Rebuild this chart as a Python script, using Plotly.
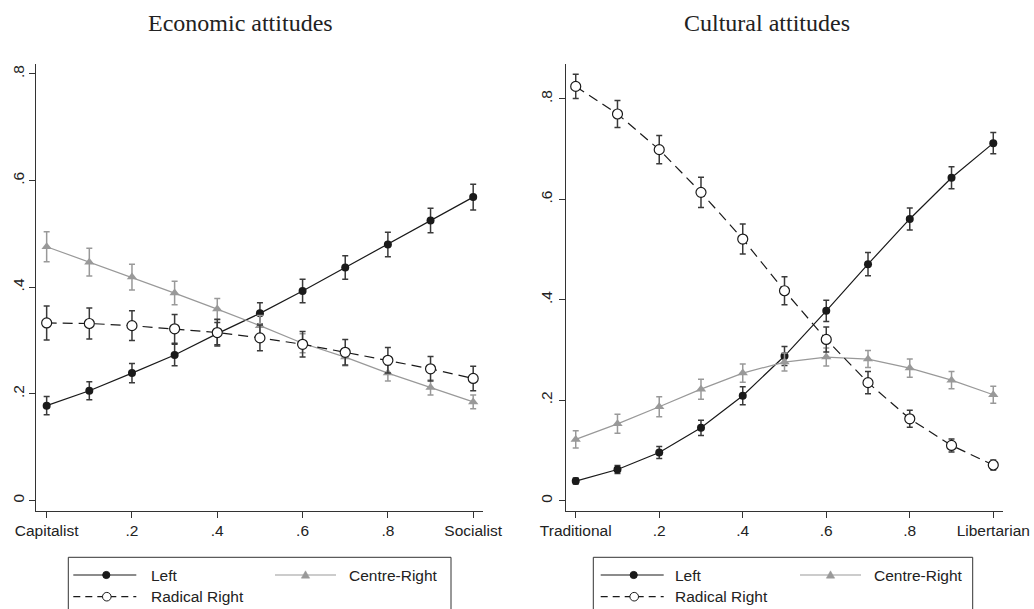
import plotly.graph_objects as go

# ---------------- data ----------------
x_vals = [0, 0.1, 0.2, 0.3, 0.4, 0.5, 0.6, 0.7, 0.8, 0.9, 1.0]
x_tickvals = [0, 0.2, 0.4, 0.6, 0.8, 1.0]
econ_xticktext = ["Capitalist", ".2", ".4", ".6", ".8", "Socialist"]
cult_xticktext = ["Traditional", ".2", ".4", ".6", ".8", "Libertarian"]
y_tickvals = [0, 0.2, 0.4, 0.6, 0.8]
y_ticktext = ["0", ".2", ".4", ".6", ".8"]

econ_left = [0.178, 0.206, 0.239, 0.273, 0.313, 0.351, 0.393, 0.437, 0.480, 0.525, 0.569]
econ_left_err = [0.017, 0.017, 0.018, 0.020, 0.021, 0.020, 0.022, 0.022, 0.023, 0.023, 0.024]
econ_cr = [0.476, 0.447, 0.419, 0.389, 0.359, 0.328, 0.295, 0.269, 0.239, 0.212, 0.185]
econ_cr_err = [0.028, 0.026, 0.024, 0.022, 0.020, 0.019, 0.018, 0.016, 0.015, 0.014, 0.013]
econ_rr = [0.333, 0.332, 0.328, 0.322, 0.315, 0.305, 0.293, 0.278, 0.263, 0.247, 0.229]
econ_rr_err = [0.032, 0.029, 0.028, 0.027, 0.025, 0.024, 0.024, 0.024, 0.024, 0.023, 0.023]

cult_left = [0.039, 0.062, 0.096, 0.145, 0.209, 0.288, 0.378, 0.471, 0.561, 0.643, 0.712]
cult_left_err = [0.006, 0.008, 0.012, 0.015, 0.018, 0.019, 0.021, 0.023, 0.022, 0.022, 0.021]
cult_cr = [0.122, 0.153, 0.187, 0.222, 0.254, 0.276, 0.286, 0.282, 0.264, 0.240, 0.211]
cult_cr_err = [0.017, 0.019, 0.020, 0.020, 0.018, 0.018, 0.018, 0.017, 0.018, 0.017, 0.017]
cult_rr = [0.825, 0.770, 0.699, 0.614, 0.521, 0.418, 0.321, 0.235, 0.163, 0.110, 0.071]
cult_rr_err = [0.024, 0.027, 0.028, 0.030, 0.030, 0.028, 0.025, 0.022, 0.017, 0.013, 0.010]

series_names = ["Left", "Centre-Right", "Radical Right"]
panel_titles = ["Economic attitudes", "Cultural attitudes"]

# ---------------- style ----------------
OFF = 0  # page body margin is removed via post_script below
W, H = 1034 - OFF, 609 - OFF
BLACK = "#1a1a1a"
DARKERR = "#3a3a3a"
GRAY = "#999999"
SANS = "Liberation Sans, Arial, sans-serif"
SERIF = "Liberation Serif, Times New Roman, serif"
DASH = "10px,6px"


def px(x):
    return (x - OFF) / W


def py(y):
    return 1 - (y - OFF) / H


fig = go.Figure()


def add_panel(xa, ya, left, left_err, cr, cr_err, rr, rr_err):
    fig.add_trace(go.Scatter(
        x=x_vals, y=left, xaxis=xa, yaxis=ya, mode="lines+markers", name=series_names[0],
        line=dict(color=BLACK, width=1.2),
        marker=dict(symbol="circle", size=8, color=BLACK),
        error_y=dict(type="data", array=left_err, color=DARKERR, thickness=1.5, width=3),
        showlegend=False))
    fig.add_trace(go.Scatter(
        x=x_vals, y=cr, xaxis=xa, yaxis=ya, mode="lines+markers", name=series_names[1],
        line=dict(color=GRAY, width=1.2),
        marker=dict(symbol="triangle-up", size=9, color=GRAY),
        error_y=dict(type="data", array=cr_err, color=GRAY, thickness=1.5, width=3),
        showlegend=False))
    fig.add_trace(go.Scatter(
        x=x_vals, y=rr, xaxis=xa, yaxis=ya, mode="lines+markers", name=series_names[2],
        line=dict(color=BLACK, width=1.2, dash=DASH),
        marker=dict(symbol="circle", size=10, color="white", line=dict(color=BLACK, width=1.2)),
        error_y=dict(type="data", array=rr_err, color=DARKERR, thickness=1.5, width=3),
        showlegend=False))


add_panel("x", "y", econ_left, econ_left_err, econ_cr, econ_cr_err, econ_rr, econ_rr_err)
add_panel("x2", "y2", cult_left, cult_left_err, cult_cr, cult_cr_err, cult_rr, cult_rr_err)

axis_common = dict(showgrid=False, zeroline=False, showline=True, linecolor="#333333", linewidth=1,
                   ticks="outside", ticklen=6, tickcolor="#333333", tickwidth=1,
                   tickfont=dict(family=SANS, size=15.5, color="#222222"), automargin=False)

ydom = [py(510.7), py(64.3)]
fig.update_layout(
    width=W, height=H,
    margin=dict(l=0, r=0, t=0, b=0),
    paper_bgcolor="white", plot_bgcolor="white",
    showlegend=False,
    xaxis=dict(domain=[px(36), px(483)], range=[-0.025, 1.023], tickvals=x_tickvals,
               ticktext=econ_xticktext, anchor="y", **axis_common),
    yaxis=dict(domain=ydom, range=[-0.019, 0.818], tickvals=y_tickvals, ticktext=y_ticktext,
               tickangle=-90, anchor="x", ticklabelstandoff=-1, **axis_common),
    xaxis2=dict(domain=[px(565.7), px(1003.3)], range=[-0.024, 1.024], tickvals=x_tickvals,
                ticktext=cult_xticktext, anchor="y2", **axis_common),
    yaxis2=dict(domain=ydom, range=[-0.020, 0.869], tickvals=y_tickvals, ticktext=y_ticktext,
                tickangle=-90, anchor="x2", ticklabelstandoff=1, **axis_common),
)

# titles
for title, cx in zip(panel_titles, [240.7, 766.7]):
    fig.add_annotation(text=title, x=px(cx), y=py(23), xref="paper", yref="paper",
                       showarrow=False, xanchor="center", yanchor="middle",
                       font=dict(family=SERIF, size=24, color="#222222"))

# ---------------- legends (drawn as decoration) ----------------
shapes = []


def circle(cx, cy, r, fill, line):
    shapes.append(dict(type="circle", xref="paper", yref="paper",
                       x0=px(cx - r), x1=px(cx + r), y0=py(cy + r), y1=py(cy - r),
                       fillcolor=fill, line=dict(color=line, width=1)))


def triangle(cx, cy, s, color):
    path = (f"M {px(cx)} {py(cy - s)} L {px(cx - s)} {py(cy + s * 0.75)} "
            f"L {px(cx + s)} {py(cy + s * 0.75)} Z")
    shapes.append(dict(type="path", xref="paper", yref="paper", path=path,
                       fillcolor=color, line=dict(color=color, width=0.5)))


def hline(x0, x1, y, color, dash=None):
    ln = dict(color=color, width=1.2)
    if dash:
        ln["dash"] = dash
    shapes.append(dict(type="line", xref="paper", yref="paper",
                       x0=px(x0), x1=px(x1), y0=py(y), y1=py(y), line=ln))


def legend_block(bx0, bx1, l0, c0, t1off):
    # frame
    shapes.append(dict(type="rect", xref="paper", yref="paper",
                       x0=px(bx0), x1=px(bx1), y0=py(625), y1=py(557.3),
                       line=dict(color="#333333", width=1), fillcolor="white"))
    r1, r2 = 575, 596.7
    # Left
    hline(l0, l0 + 63, r1, BLACK)
    circle(l0 + 33, r1, 3.6, BLACK, BLACK)
    # Radical Right
    hline(l0, l0 + 63, r2, BLACK, dash="7px,5px")
    circle(l0 + 33.5, r2, 4.3, "white", BLACK)
    # Centre-Right
    hline(c0, c0 + 61, r1, GRAY)
    triangle(c0 + 30.5, r1, 4.2, GRAY)
    for name, tx, ty in [(series_names[0], l0 + t1off, r1), (series_names[2], l0 + t1off, r2),
                         (series_names[1], c0 + 72, r1)]:
        fig.add_annotation(text=name, x=px(tx), y=py(ty), xref="paper", yref="paper",
                           showarrow=False, xanchor="left", yanchor="middle",
                           font=dict(family=SANS, size=15.5, color="#222222"))


legend_block(68.3, 451, 73.3, 275, 76)
legend_block(593.3, 972.7, 600.7, 800, 72.6)

fig.update_layout(shapes=shapes)

fig.write_html(
    "out.html",
    config={"displayModeBar": False},
    post_script="document.body.style.margin='0';document.body.style.overflow='hidden';",
)
